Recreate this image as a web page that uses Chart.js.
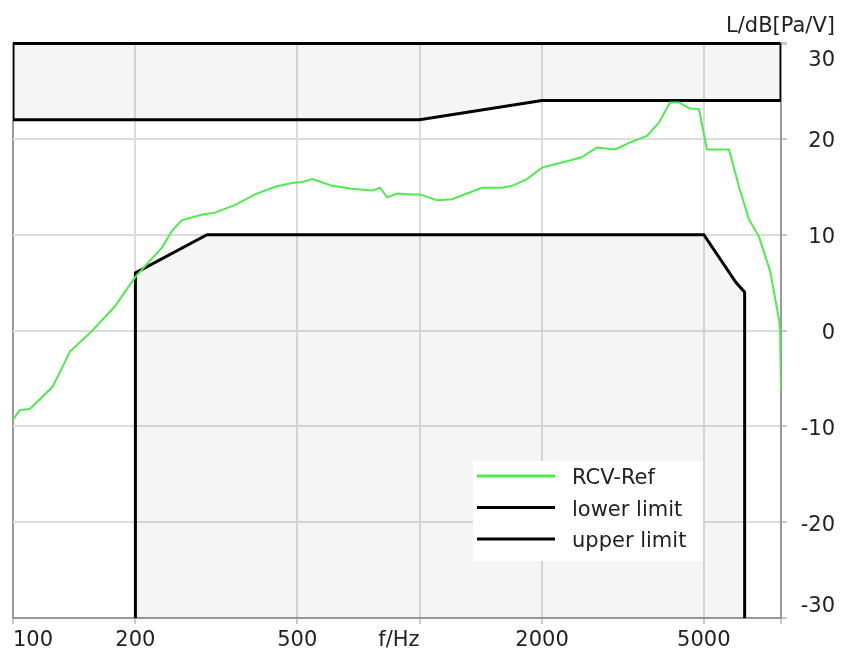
<!DOCTYPE html>
<html>
<head>
<meta charset="utf-8">
<script src="https://cdn.jsdelivr.net/npm/chart.js@4.4.0/dist/chart.umd.min.js"></script>
<style>
  body { margin: 0; background: #fff; }
</style>
</head>
<body>
<canvas id="chart" width="841" height="652"></canvas>
<script>
var refFreq = [100, 104, 110, 125, 132, 138, 156, 178, 200, 233, 246, 260, 292, 314, 352, 394, 441, 486, 514, 544,
  609, 682, 764, 799, 832, 880, 958, 1000, 1104, 1202, 1308, 1424, 1595, 1688, 1837, 2000, 2176, 2370, 2507, 2730,
  3024, 3329, 3624, 3880, 4128, 4344, 4596, 4864, 5090, 5328, 5766, 6102, 6456, 6834, 7278, 7656, 7700, 7740];
var refLevel = [-9.3, -8.3, -8.2, -5.9, -3.9, -2.2, -0.1, 2.5, 5.6, 8.7, 10.4, 11.5, 12.1, 12.3, 13.1, 14.2, 15.0, 15.4, 15.5, 15.8,
  15.1, 14.8, 14.6, 14.9, 13.9, 14.3, 14.2, 14.2, 13.6, 13.7, 14.3, 14.9, 14.9, 15.1, 15.8, 17.0, 17.4, 17.8, 18.1, 19.1,
  18.9, 19.7, 20.3, 21.7, 23.8, 23.8, 23.2, 23.1, 18.9, 18.9, 18.9, 15.0, 11.6, 9.8, 6.2, 1.1, -0.1, -6.2];

// tolerance mask
var lowerFreq = [200, 200, 300, 5000, 6000, 6300, 6300];
var lowerLevel = [-30, 6, 10, 10, 5, 4, -30];
var upperFreq = [100, 100, 1000, 2000, 7740, 7740];
var upperLevel = [30, 22, 22, 24, 24, 30];

var seriesNames = ["RCV-Ref", "lower limit", "upper limit"];
var xTicks = [100, 200, 500, 1000, 2000, 5000, 7740];
var xLabels = ["100", "200", "500", "", "2000", "5000", ""];
var yTicks = [-30, -20, -10, 0, 10, 20, 30];
var xTitle = "f/Hz";
var yTitle = "L/dB[Pa/V]";

var FAMILY = "'DejaVu Sans', 'Liberation Sans', Arial, sans-serif";
var FONT = { family: FAMILY, size: 21 };
var TEXT = "#222";

function pts(xs, ys) {
  return xs.map(function (x, i) { return { x: x, y: ys[i] }; });
}

// axis title under the 1000 Hz tick, right aligned to it
var xTitlePlugin = {
  id: "xTitle",
  afterDraw: function (chart) {
    var sc = chart.scales.x;
    var it = sc.getLabelItems()[xTicks.indexOf(1000)];
    var c = chart.ctx;
    c.save();
    c.font = FONT.size + "px " + FAMILY;
    c.fillStyle = TEXT;
    c.textAlign = "right";
    c.textBaseline = it.options.textBaseline;
    c.fillText(xTitle, sc.getPixelForValue(1000), it.options.translation[1] + it.textOffset);
    c.restore();
  }
};

var legendBox = {
  id: "legendBox",
  afterDraw: function (chart) {
    var c = chart.ctx;
    var left = 473, top = 461;
    c.save();
    c.fillStyle = "#fff";
    c.fillRect(left, top, 230, 100);
    chart.data.datasets.forEach(function (ds, i) {
      var y = top + 15 + i * 31.5;
      c.strokeStyle = ds.borderColor;
      c.lineWidth = 3;
      c.beginPath();
      c.moveTo(left + 4, y);
      c.lineTo(left + 82, y);
      c.stroke();
      c.font = FONT.size + "px " + FAMILY;
      c.fillStyle = TEXT;
      c.textBaseline = "middle";
      c.fillText(ds.label, left + 99, y + 3);
    });
    c.restore();
  }
};

var ctx = document.getElementById("chart").getContext("2d");
var chart = new Chart(ctx, {
  type: "line",
  data: {
    datasets: [{
      label: seriesNames[0],
      data: pts(refFreq, refLevel),
      borderColor: "#4eea4e",
      borderWidth: 2,
      pointRadius: 0,
      fill: false
    }, {
      label: seriesNames[1],
      data: pts(lowerFreq, lowerLevel),
      borderColor: "#000",
      borderWidth: 3,
      pointRadius: 0,
      backgroundColor: "rgba(0,0,0,0.04)",
      fill: "start"
    }, {
      label: seriesNames[2],
      data: pts(upperFreq, upperLevel),
      borderColor: "#000",
      borderWidth: 3,
      pointRadius: 0,
      backgroundColor: "rgba(0,0,0,0.04)",
      fill: "end"
    }]
  },
  options: {
    responsive: false,
    animation: false,
    layout: { padding: { left: 13, right: 6, top: 0, bottom: 0 } },
    plugins: {
      legend: { display: false },
      tooltip: { enabled: false },
      title: {
        display: true,
        text: yTitle,
        align: "end",
        color: TEXT,
        font: { family: FAMILY, size: 21, weight: "normal" },
        padding: { top: 14, bottom: 3.8 }
      }
    },
    scales: {
      x: {
        type: "logarithmic",
        position: "bottom",
        min: 100,
        max: 7740,
        afterBuildTicks: function (s) {
          s.ticks = xTicks.map(function (v) { return { value: v }; });
        },
        afterFit: function (s) {
          s.height = 34;
          s.paddingLeft = 0;
          s.paddingRight = 0;
        },
        ticks: {
          autoSkip: false,
          maxRotation: 0,
          align: "inner",
          padding: 4,
          color: TEXT,
          font: FONT,
          callback: function (v, i) { return xLabels[i]; }
        },
        grid: {
          color: function (c) { return c.tick && c.tick.value === 100 ? "#999" : "#dcdcdc"; },
          lineWidth: 2,
          tickColor: "#c8c8c8",
          tickLength: 6
        },
        border: { color: "#999", width: 2 }
      },
      y: {
        type: "linear",
        position: "right",
        min: -30,
        max: 30,
        afterBuildTicks: function (s) {
          s.ticks = yTicks.map(function (v) { return { value: v }; });
        },
        afterFit: function (s) {
          s.width = 54;
          s.paddingTop = 0;
          s.paddingBottom = 0;
        },
        ticks: {
          crossAlign: "far",
          padding: 12,
          labelOffset: 3,
          color: TEXT,
          font: { family: FAMILY, size: 21, lineHeight: 1.35 },
          callback: function (v) {
            if (v === 30) return ["", "30"];
            if (v === -30) return ["-30", ""];
            return String(v);
          }
        },
        grid: {
          color: function (c) {
            if (!c.tick) return "#dcdcdc";
            if (c.tick.value === 30) return "#000";
            if (c.tick.value === -30) return "#999";
            return "#dcdcdc";
          },
          lineWidth: function (c) { return c.tick && c.tick.value === 30 ? 3 : 2; },
          tickColor: "#c8c8c8",
          tickLength: 6
        },
        border: { color: "#999", width: 2 }
      }
    }
  },
  plugins: [xTitlePlugin, legendBox]
});
</script>
</body>
</html>
